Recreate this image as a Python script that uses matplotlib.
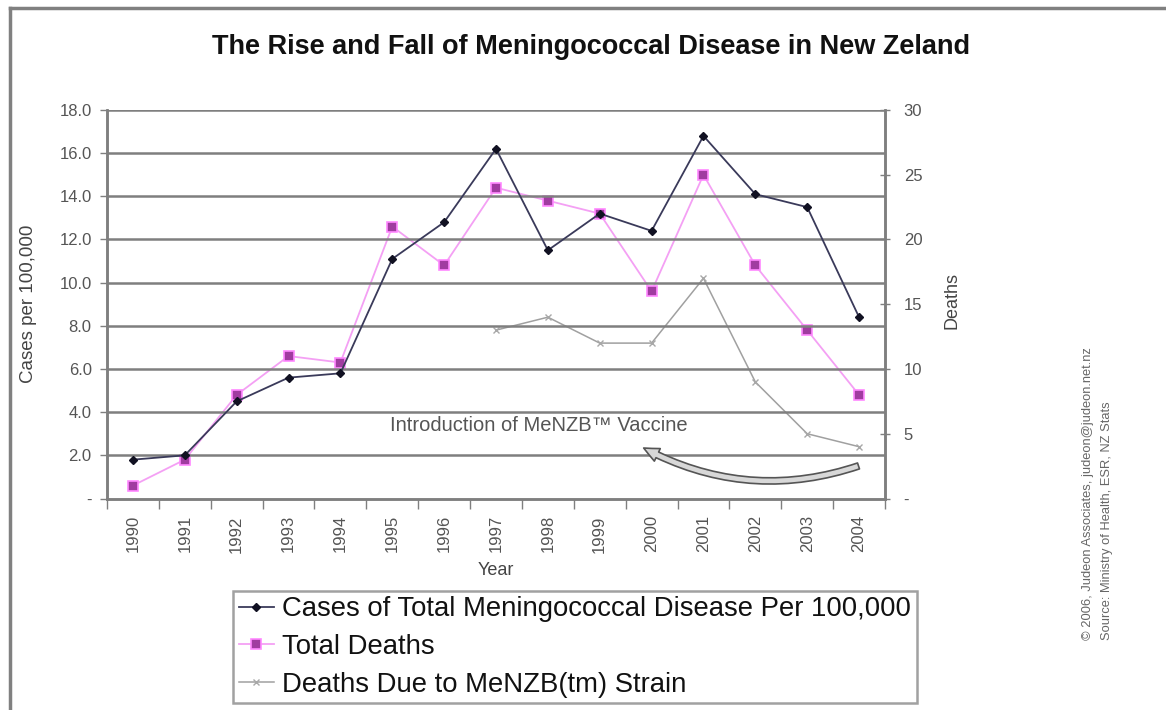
import numpy as np
import matplotlib
matplotlib.use("Agg")
import matplotlib.pyplot as plt
from matplotlib.lines import Line2D
from matplotlib.patches import FancyArrowPatch

plt.rcParams['font.family'] = ['Liberation Sans', 'DejaVu Sans']

years = ["1990", "1991", "1992", "1993", "1994", "1995", "1996", "1997",
         "1998", "1999", "2000", "2001", "2002", "2003", "2004"]
cases = [1.8, 2.0, 4.5, 5.6, 5.8, 11.1, 12.8, 16.2, 11.5, 13.2, 12.4, 16.8, 14.1, 13.5, 8.4]
total_deaths = [1, 3, 8, 11, 10.5, 21, 18, 24, 23, 22, 16, 25, 18, 13, 8]
strain_deaths = [np.nan, np.nan, np.nan, np.nan, np.nan, np.nan, np.nan,
                 13, 14, 12, 12, 17, 9, 5, 4]

left_ticks = [0, 2, 4, 6, 8, 10, 12, 14, 16, 18]
left_labels = ["-", "2.0", "4.0", "6.0", "8.0", "10.0", "12.0", "14.0", "16.0", "18.0"]
right_ticks = [0, 5, 10, 15, 20, 25, 30]
right_labels = ["-", "5", "10", "15", "20", "25", "30"]

W, H = 1166, 710
fig = plt.figure(figsize=(W / 100, H / 100), dpi=100)
fig.patch.set_facecolor("white")

L, R, T, B = 107, 885, 110, 498.5
ax = fig.add_axes([L / W, 1 - B / H, (R - L) / W, (B - T) / H])
ax2 = ax.twinx()

x = np.arange(len(years))
grid_c = "#7f7f7f"
tick_c = "#555555"

ax.set_xlim(-0.5, len(years) - 0.5)
ax.set_ylim(0, 18)
ax2.set_ylim(0, 30)

for yv in left_ticks[1:]:
    ax.axhline(yv, color=grid_c, lw=1.8, zorder=0.5)

l1, = ax.plot(x, cases, color="#3a3a5a", lw=1.3, marker="D", ms=4.5,
              mfc="#111122", mec="#111122", zorder=4,
              label="Cases of Total Meningococcal Disease Per 100,000")
l2, = ax2.plot(x, total_deaths, color="#f4a0f4", lw=1.3, marker="s", ms=7,
               mfc="#a03ca0", mec="#ff88ff", mew=1.2, zorder=3, label="Total Deaths")
l3, = ax2.plot(x, strain_deaths, color="#a0a0a0", lw=1.1, marker="x", ms=4.5,
               mec="#a8a8a8", zorder=2, label="Deaths Due to MeNZB(tm) Strain")

for a in (ax, ax2):
    for s in a.spines.values():
        s.set_color(grid_c)
        s.set_linewidth(1.8)
    a.spines["top"].set_visible(False)

ax.set_yticks(left_ticks)
ax.set_yticklabels(left_labels)
ax2.set_yticks(right_ticks)
ax2.set_yticklabels(right_labels)
ax.tick_params(axis="y", direction="out", length=5, width=1, colors=grid_c,
               labelcolor=tick_c, labelsize=12, pad=6)
ax2.tick_params(axis="y", direction="inout", length=7, width=1, colors=grid_c,
                labelcolor=tick_c, labelsize=12, pad=10)

ax.set_xticks(x)
ax.set_xticklabels(years, rotation=90, fontsize=12, color=tick_c)
ax.set_xticks(np.arange(-0.5, len(years), 1), minor=True)
ax.tick_params(axis="x", which="major", length=0, pad=12)
ax.tick_params(axis="x", which="minor", direction="out", length=7, width=1, colors=grid_c)

ax.set_xlabel("Year", fontsize=13, color="#444444", labelpad=7)
ax.set_ylabel("Cases per 100,000", fontsize=13.5, color="#444444")
ax2.set_ylabel("Deaths", fontsize=13, color="#444444", rotation=90)
ax.yaxis.set_label_coords((37 - L) / (R - L), 0.50)
ax2.yaxis.set_label_coords((943 - L) / (R - L), 0.51)

ax.set_zorder(ax2.get_zorder() + 1)
ax.patch.set_visible(False)

fig.text(591 / W, 1 - 47 / H, "The Rise and Fall of Meningococcal Disease in New Zeland",
         ha="center", va="center", fontsize=19.5, fontweight="bold", color="#111111")

ax.text(7.82, 3.4, "Introduction of MeNZB\u2122 Vaccine", fontsize=14.5,
        color="#555555", ha="center", va="center")

arrow = FancyArrowPatch((14.04, 1.55), (9.8, 2.4),
                        connectionstyle="arc3,rad=-0.22",
                        arrowstyle="simple,head_width=10,head_length=11,tail_width=4.5",
                        fc="#d8d8d8", ec="#555555", lw=1.2, zorder=5)
ax.add_patch(arrow)

leg = fig.legend(handles=[l1, l2, l3], loc="upper left",
                 bbox_to_anchor=(233 / W, 1 - 591 / H), borderaxespad=0,
                 fontsize=19.8, frameon=True, fancybox=False, handlelength=1.3,
                 handletextpad=0.3, borderpad=0.2, labelspacing=0.42)
leg.get_frame().set_edgecolor("#8a8a8a")
leg.get_frame().set_linewidth(1.8)
for t in leg.get_texts():
    t.set_color("#111111")

fig.text(1088 / W, 1 - 640 / H, "\u00a9 2006, Judeon Associates, judeon@judeon.net.nz",
         rotation=90, ha="center", va="bottom", fontsize=9.3, color="#666666")
fig.text(1107 / W, 1 - 640 / H, "Source: Ministry of Health, ESR, NZ Stats",
         rotation=90, ha="center", va="bottom", fontsize=9.3, color="#666666")

fig.add_artist(Line2D([10 / W, 1.0], [1 - 8 / H, 1 - 8 / H], color="#808080", lw=2.5))
fig.add_artist(Line2D([10 / W, 10 / W], [0, 1 - 8 / H], color="#808080", lw=2.5))

fig.savefig("out.png", dpi=100, facecolor="white")
